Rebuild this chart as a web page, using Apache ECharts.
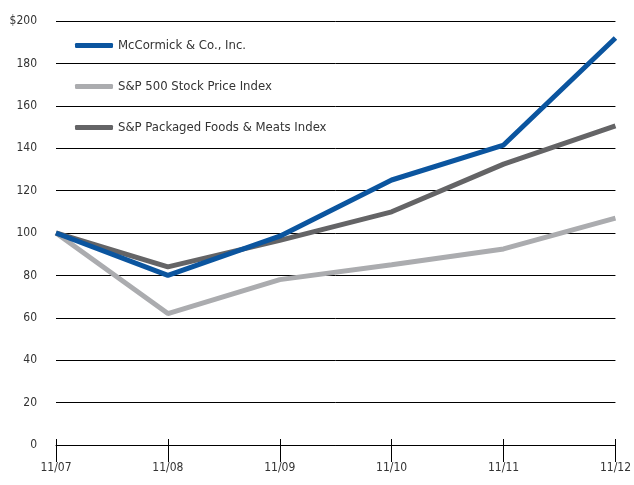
<!DOCTYPE html>
<html>
<head>
<meta charset="utf-8">
<script src="https://cdn.jsdelivr.net/npm/echarts@6/dist/echarts.min.js"></script>
<style>
  html, body { margin: 0; padding: 0; background: #fff; }
  #main { width: 634px; height: 485px; }
</style>
</head>
<body>
<div id="main"></div>
<script>
const years = ['11/07', '11/08', '11/09', '11/10', '11/11', '11/12'];
const mccormick = [100, 80, 98.5, 125, 141.5, 192];
const sp500 = [100, 62, 78, 85, 92.5, 107];
const packagedFoods = [100, 84, 96.5, 110, 132.5, 150.5];
const seriesNames = ['McCormick & Co., Inc.', 'S&P 500 Stock Price Index', 'S&P Packaged Foods & Meats Index'];

const font = "'Liberation Sans Narrow', 'DejaVu Sans Condensed', sans-serif";

let chart = echarts.init(document.getElementById('main'), null, { renderer: 'canvas' });

let option = {
  animation: false,
  textStyle: { fontFamily: font },
  legend: {
    orient: 'vertical',
    left: 70,
    top: 34,
    itemWidth: 38,
    itemHeight: 5,
    itemGap: 28,
    icon: 'roundRect',
    textStyle: { fontFamily: font, fontSize: 13, color: '#333' },
    data: seriesNames
  },
  grid: { left: 56, right: 15, top: 21, bottom: 40 },
  xAxis: [
    {
      type: 'category',
      data: years,
      boundaryGap: false,
      axisLine: { lineStyle: { color: '#000', width: 1 } },
      axisTick: { length: 17, lineStyle: { color: '#000' } },
      axisLabel: { color: '#333', fontSize: 12, margin: 17, fontFamily: font }
    },
    {
      type: 'category',
      data: years,
      boundaryGap: false,
      position: 'bottom',
      axisLine: { show: false },
      axisTick: { inside: true, length: 6, lineStyle: { color: '#000' } },
      axisLabel: { show: false }
    }
  ],
  yAxis: {
    type: 'value',
    min: 0,
    max: 200,
    interval: 20,
    axisLine: { show: false },
    axisTick: { show: false },
    axisLabel: {
      color: '#333',
      fontSize: 12,
      margin: 19,
      fontFamily: font,
      formatter: function (v) { return v === 200 ? '$200' : v; }
    },
    splitLine: { lineStyle: { color: '#000', width: 1 } }
  },
  series: [
    {
      name: seriesNames[1],
      type: 'line',
      data: sp500,
      symbol: 'none',
      lineStyle: { color: '#abacaf', width: 5 },
      itemStyle: { color: '#abacaf' }
    },
    {
      name: seriesNames[2],
      type: 'line',
      data: packagedFoods,
      symbol: 'none',
      lineStyle: { color: '#646466', width: 5 },
      itemStyle: { color: '#646466' }
    },
    {
      name: seriesNames[0],
      type: 'line',
      data: mccormick,
      symbol: 'none',
      lineStyle: { color: '#0b559f', width: 5 },
      itemStyle: { color: '#0b559f' }
    }
  ]
};

chart.setOption(option);
</script>
</body>
</html>
